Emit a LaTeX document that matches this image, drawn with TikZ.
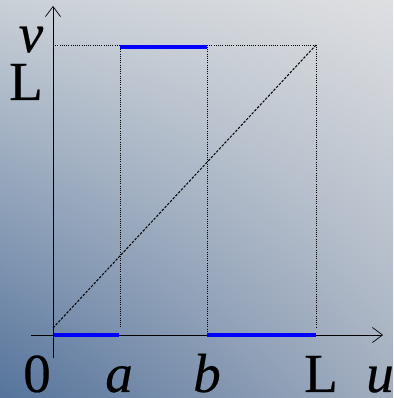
\documentclass[tikz,border=0pt]{standalone}
\usepackage{fontspec}
\setmainfont{Liberation Serif}[UprightFeatures={FakeBold=0.4},ItalicFeatures={FakeBold=0.4}]
\usetikzlibrary{arrows.meta,shadings}
\definecolor{bgUL}{HTML}{C9D0D7}
\definecolor{bgUR}{HTML}{DEDFE1}
\definecolor{bgLL}{HTML}{55739B}
\definecolor{bgLR}{HTML}{A2AEBF}
\definecolor{segblue}{HTML}{0000FF}
\tikzset{
  axis/.style={line width=0.7pt,-{Straight Barb[length=10pt,width=15pt,line width=0.7pt]}},
  guide/.style={line width=0.8pt,dash pattern=on 0.9pt off 1.3pt},
  diag/.style={line width=1pt,dash pattern=on 2.5pt off 1.5pt},
  seg/.style={line width=4pt,segblue},
  lbl/.style={inner sep=0pt,anchor=base,font=\fontsize{55}{58}\selectfont}
}
\begin{document}
\begin{tikzpicture}[x=1pt,y=1pt]
\useasboundingbox (0,0) rectangle (393,398);
\shade[upper left=bgUL,upper right=bgUR,lower left=bgLL,lower right=bgLR] (0,0) rectangle (393,398);
% coordinates
\coordinate (O) at (53,63);
\coordinate (ytop) at (53,392);
\coordinate (ybot) at (53,40);
\coordinate (xleft) at (31,63);
\coordinate (xright) at (383,63);
\coordinate (Ly) at (53,353);
\coordinate (T) at (316,353);
\coordinate (Ta) at (120,351);
\coordinate (Tb) at (207,351);
\coordinate (Ba) at (120,70);
\coordinate (Bb) at (207,63);
\coordinate (BL) at (316,70);
\coordinate (D0) at (53,70);
\coordinate (Oa) at (54,63);
\coordinate (Aa) at (119,63);
\coordinate (Lx) at (316,63);
% axes
\draw[axis] (ybot) -- (ytop);
\draw[axis] (xleft) -- (xright);
% guides
\draw[guide] (Ly) -- (T);
\draw[guide] (Ta) -- (Ba);
\draw[guide] (Tb) -- (Bb);
\draw[guide] (T) -- (BL);
% diagonal
\draw[diag] (D0) -- (T);
% blue segments
\draw[seg] (Ta) -- (Tb);
\draw[seg] (Oa) -- (Aa);
\draw[seg] (Bb) -- (Lx);
% labels
\node[lbl] (lv) at (31,346) {\itshape v};
\node[lbl] (lL) at (26,298) {L};
\node[lbl] (l0) at (37,6) {0};
\node[lbl] (la) at (119,6) {\itshape a};
\node[lbl] (lb) at (207,6) {\itshape b};
\node[lbl] (lLx) at (321,6) {L};
\node[lbl] (lu) at (380,6) {\itshape u};
\end{tikzpicture}
\end{document}
